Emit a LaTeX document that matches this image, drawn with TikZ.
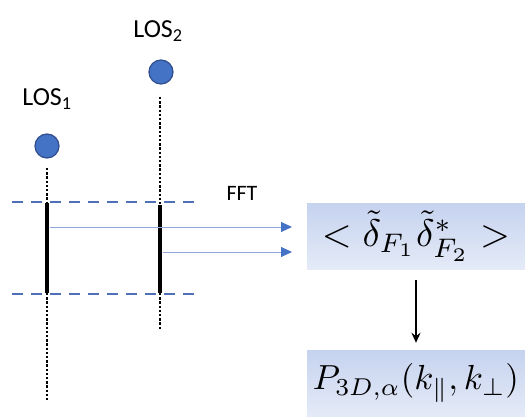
\documentclass[tikz,border=0pt]{standalone}
\usepackage{fontspec}
\usepackage{graphicx}
\setsansfont{Carlito}
\usetikzlibrary{arrows.meta}
\definecolor{losblue}{HTML}{4472C4}
\definecolor{losedge}{HTML}{2F4D8C}
\definecolor{dashblue}{HTML}{4F70B8}
\definecolor{arrline}{HTML}{8EA7D6}
\definecolor{boxtop}{HTML}{C6D3EF}
\definecolor{boxbot}{HTML}{E4EAF7}
\tikzset{
  losdot/.style={circle,fill=losblue,draw=losedge,line width=1.2pt,minimum size=24pt,inner sep=0pt},
  loslabel/.style={font=\sffamily\fontsize{26}{30}\selectfont,inner sep=0pt},
  dotline/.style={line width=2.6pt,dash pattern=on 2.4pt off 1.8pt},
  solidseg/.style={line width=3.6pt},
  dashline/.style={draw=dashblue,line width=2.6pt,dash pattern=on 11pt off 8pt},
  fftarrow/.style={draw=arrline,line width=1pt,-{Triangle[length=11pt,width=10pt,fill=losblue,color=losblue]}},
  mathbox/.style={shading=axis,top color=boxtop,bottom color=boxbot,minimum width=218pt,minimum height=66pt,inner sep=0pt},
}
\begin{document}
\begin{tikzpicture}[x=1pt,y=-1pt]
\useasboundingbox (0,0) rectangle (525,417);
% labels and dots
\node[loslabel,anchor=base] (los1label) at (47,106) {LOS\textsubscript{1}};
\node[loslabel,anchor=base] (los2label) at (158,38) {LOS\textsubscript{2}};
\node[losdot] (los1) at (47,146) {};
\node[losdot] (los2) at (161,72) {};
% line coordinates
\coordinate (a1) at (47,168);
\coordinate (a2) at (47,203);
\coordinate (a3) at (47,293);
\coordinate (a4) at (47,402);
\coordinate (b1) at (160,97);
\coordinate (b2) at (160,205);
\coordinate (b3) at (160,293);
\coordinate (b4) at (160,329);
\draw[dotline] (a1) -- (a2);
\draw[solidseg] (a2) -- (a3);
\draw[dotline] (a3) -- (a4);
\draw[dotline] (b1) -- (b2);
\draw[solidseg] (b2) -- (b3);
\draw[dotline] (b3) -- (b4);
% dashed lines
\coordinate (d1l) at (12,202);
\coordinate (d1r) at (196,202);
\coordinate (d2l) at (12,294);
\coordinate (d2r) at (196,294);
\draw[dashline] (d1l) -- (d1r);
\draw[dashline] (d2l) -- (d2r);
% boxes
\node[mathbox] (box1) at (416,236) {\resizebox{188pt}{!}{$<\tilde\delta_{F_1}\tilde\delta^*_{F_2}>$}};
\node[mathbox] (box2) at (416,383) {\resizebox{206pt}{!}{$P_{3D,\alpha}(k_\parallel,k_\perp)$}};
\node[font=\sffamily\fontsize{22}{26}\selectfont,inner sep=0pt] (fft) at (242,193) {FFT};
% arrows
\coordinate (s1) at (50,227);
\coordinate (s2) at (163,252);
\draw[fftarrow] (s1) -- (s1 -| 292,0);
\draw[fftarrow] (s2) -- (s2 -| 292,0);
\draw[line width=1.8pt,-{Stealth[length=10pt,width=9pt]}] ([yshift=-11pt]box1.south) -- ([yshift=7pt]box2.north);
\end{tikzpicture}
\end{document}
